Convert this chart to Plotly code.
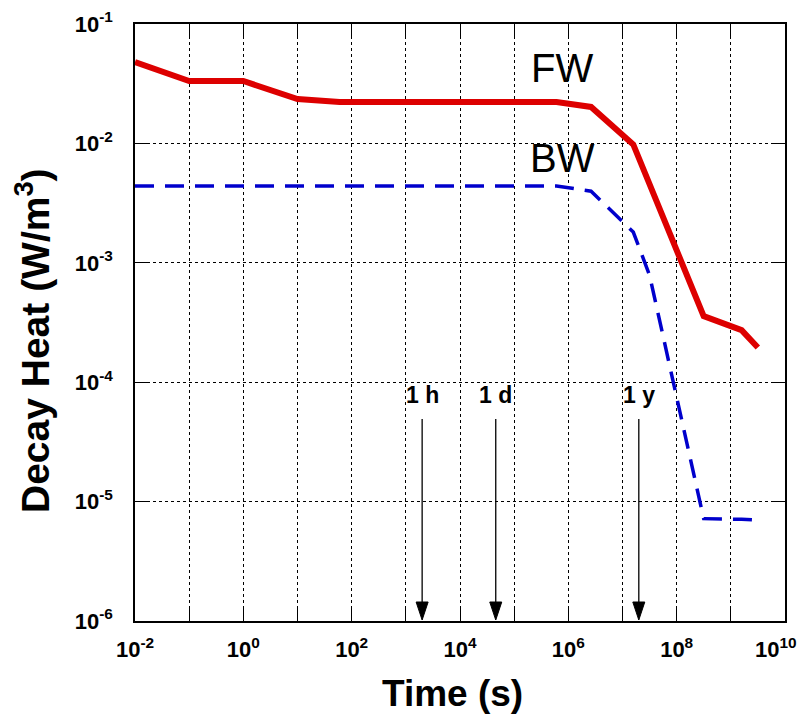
import math
import plotly.graph_objects as go

# ---- data ----
fw_time = [1e-2, 1e-1, 1e0, 1e1, 60, 6.05e5, 2.63e6, 1.58e7, 3.15e8, 1.58e9, 3.15e9]
fw_heat = [0.048, 0.0333, 0.0333, 0.0235, 0.0222, 0.0222, 0.0202, 0.0098, 3.58e-4, 2.73e-4, 1.95e-4]

bw_time = [1e-2, 1e-1, 1e0, 1e1, 60, 6.05e5, 2.63e6, 1.58e7, 3.15e7, 3.15e8, 1.58e9, 3.15e9]
bw_heat = [4.4e-3, 4.4e-3, 4.4e-3, 4.4e-3, 4.4e-3, 4.4e-3, 3.98e-3, 1.81e-3, 7.9e-4, 7.2e-6, 7.1e-6, 7.0e-6]

marker_times = [2.0e3, 4.57e4, 2.0e7]
marker_labels = ["1 h", "1 d", "1 y"]

x_decades = list(range(-2, 11))
x_tickvals = [10.0 ** d for d in x_decades]
# last label (10^10) drawn as an annotation so it is not hidden at the figure edge
x_ticktext = [f"10<sup>{d}</sup>" if (d % 2 == 0 and d < 10) else "" for d in x_decades]

y_decades = list(range(-6, 0))
y_tickvals = [10.0 ** d for d in y_decades]
y_ticktext = [f"10<sup>{d}</sup>" for d in y_decades]

FONT = "Liberation Sans, Arial, Helvetica, sans-serif"

# page body has an 8px margin; the figure is sized/offset to compensate
OFF = 8
PL, PR, PT, PB = 135, 785, 24, 621  # plot area in window pixels
FIG_W, FIG_H = 809 - OFF, 716 - OFF

fig = go.Figure()
fig.add_trace(go.Scatter(x=fw_time, y=fw_heat, mode="lines",
                         line=dict(color="rgb(221,0,0)", width=6), name="FW"))
fig.add_trace(go.Scatter(x=bw_time, y=bw_heat, mode="lines",
                         line=dict(color="rgb(0,0,204)", width=3.5, dash="19px,11px"), name="BW"))

TICKFONT = dict(family=FONT, size=22, color="black", weight="bold")
axis_common = dict(
    type="log", showline=True, linecolor="black", linewidth=1.5, mirror="ticks",
    ticks="inside", ticklen=12, tickwidth=1, tickcolor="black",
    showgrid=True, gridcolor="black", gridwidth=1, griddash="3px,3px",
    zeroline=False, automargin=False,
    tickfont=TICKFONT,
)

fig.update_xaxes(range=[-2, 10], tickmode="array", tickvals=x_tickvals, ticktext=x_ticktext,
                 ticklabelstandoff=8, **axis_common)
fig.update_yaxes(range=[-6, -1], tickmode="array", tickvals=y_tickvals, ticktext=y_ticktext,
                 ticklabelstandoff=16, **axis_common)

H = PB - PT
W = PR - PL

annotations = []
shapes = []
for t, lab in zip(marker_times, marker_labels):
    annotations.append(dict(x=math.log10(t), y=(PB - 395) / H, xref="x", yref="paper",
                            text=f"<b>{lab}</b>", showarrow=False, xanchor="center", yanchor="middle",
                            font=dict(family=FONT, size=23, color="black")))
    shapes.append(dict(type="line", xref="x", yref="y", xsizemode="pixel", ysizemode="pixel",
                       xanchor=t, yanchor=1e-6, x0=0, x1=0, y0=14, y1=202,
                       line=dict(color="black", width=1.3)))
    shapes.append(dict(type="path", xref="x", yref="y", xsizemode="pixel", ysizemode="pixel",
                       xanchor=t, yanchor=1e-6, path="M0,1 L-6,19 L6,19 Z",
                       fillcolor="black", line=dict(color="black", width=1)))

# 10^10 tick label, kept inside the visible window
annotations.append(dict(x=x_decades[-1], y=(PB - 648) / H, xref="x", yref="paper",
                        text=f"10<sup>{x_decades[-1]}</sup>", showarrow=False,
                        xanchor="right", xshift=14, yanchor="middle", font=TICKFONT))

annotations.append(dict(x=5.88, y=-1.37, xref="x", yref="y", text="FW", showarrow=False,
                        xanchor="center", yanchor="middle",
                        font=dict(family=FONT, size=40, color="black")))
annotations.append(dict(x=5.9, y=-2.12, xref="x", yref="y", text="BW", showarrow=False,
                        xanchor="center", yanchor="middle",
                        font=dict(family=FONT, size=40, color="black")))

annotations.append(dict(x=(452 - PL) / W, y=(PB - 693) / H, xref="paper", yref="paper",
                        text="<b>Time (s)</b>", showarrow=False, xanchor="center", yanchor="middle",
                        font=dict(family=FONT, size=37, color="black")))
annotations.append(dict(x=(32 - PL) / W, y=(PB - 341) / H, xref="paper", yref="paper",
                        text="<b>Decay Heat (W/m<sup>3</sup>)</b>", showarrow=False, textangle=-90,
                        xanchor="center", yanchor="middle",
                        font=dict(family=FONT, size=39, color="black")))

fig.update_layout(
    width=FIG_W, height=FIG_H,
    margin=dict(l=PL - OFF, r=FIG_W + OFF - PR, t=PT - OFF, b=FIG_H + OFF - PB, autoexpand=False),
    paper_bgcolor="white", plot_bgcolor="white",
    showlegend=False,
    annotations=annotations, shapes=shapes,
    font=dict(family=FONT, color="black"),
)

fig.write_html("out.html")
